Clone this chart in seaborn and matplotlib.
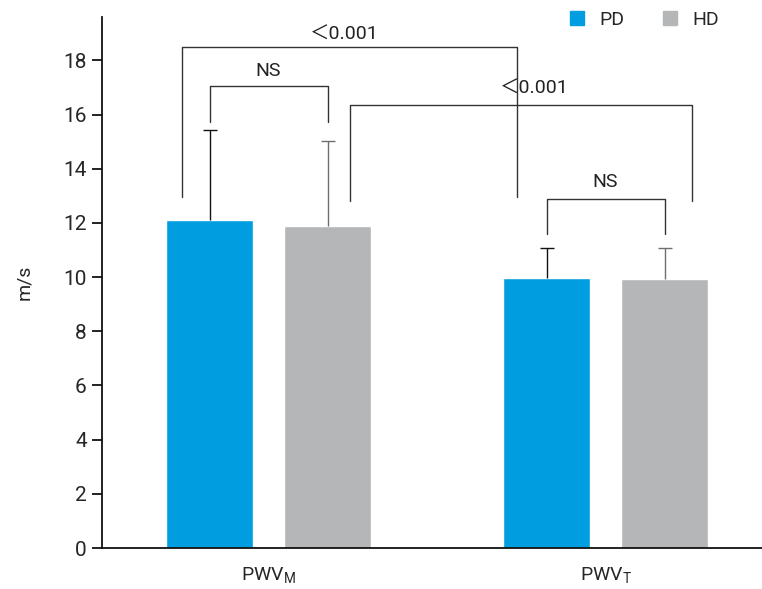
"""Pulse wave velocity, PD vs HD, grouped bars with significance brackets."""
import numpy as np
import pandas as pd
import matplotlib
matplotlib.use('Agg')
import matplotlib.pyplot as plt
import seaborn as sns
from matplotlib.patches import Patch

measures = ['PWV_M', 'PWV_T']
tick_labels = [r'$\mathregular{PWV_M}$', r'$\mathregular{PWV_T}$']
groups = ['PD', 'HD']
pd_mean = [12.12, 9.98]
hd_mean = [11.90, 9.94]
pd_sd = [3.30, 1.10]
hd_sd = [3.14, 1.14]

colors = {'PD': '#009ee0', 'HD': '#b5b6b8'}
err_colors = {'PD': '#111111', 'HD': '#6e6e6e'}

df = pd.DataFrame({
    'measure': measures * 2,
    'group': ['PD'] * 2 + ['HD'] * 2,
    'value': pd_mean + hd_mean,
    'sd': pd_sd + hd_sd,
})

sns.set_style('white')
plt.rcParams['font.family'] = ['Roboto', 'Noto Sans CJK SC', 'DejaVu Sans']

fig = plt.figure(figsize=(7.62, 5.89), dpi=100)
ax = fig.add_axes([0.1339, 0.0696, 0.8661, 0.9015])

sns.barplot(data=df, x='measure', y='value', hue='group', order=measures,
            hue_order=groups, palette=colors, width=0.7, gap=0.263,
            errorbar=None, saturation=1, legend=False, ax=ax)

# one-sided error bars, placed at the bar centres seaborn produced
centres = {}
for i, g in enumerate(groups):
    sub = df[df.group == g].set_index('measure').loc[measures]
    bars = ax.containers[i]
    xs = [b.get_x() + b.get_width() / 2 for b in bars]
    centres[g] = xs
    eb = ax.errorbar(xs, sub['value'], yerr=[np.zeros(len(xs)), sub['sd']],
                     fmt='none', ecolor=err_colors[g], elinewidth=1.0,
                     capsize=5, capthick=1.0, zorder=1)
    eb[1][0].set_visible(False)  # drop the cap at the bar top

line_kw = dict(color='#333333', lw=1.0, zorder=3)


def bracket(x1, x2, y_top, y1, y2, label, tx, ty):
    ax.plot([x1, x1, x2, x2], [y1, y_top, y_top, y2], **line_kw)
    ax.text(tx, ty, label, ha='center', va='center', fontsize=14,
            color='#222222')


pm, pt = centres['PD']
hm, ht = centres['HD']
bracket(pm, hm, 17.07, 15.74, 15.74, 'NS', (pm + hm) / 2, 17.62)
bracket(pt, ht, 12.90, 11.60, 11.60, 'NS', (pt + ht) / 2, 13.50)
bracket(pm - 0.082, pt - 0.088, 18.51, 12.97, 12.97, '\uff1c0.001',
        (pm + pt) / 2 - 0.10, 18.95)
bracket(hm + 0.067, ht + 0.082, 16.37, 12.82, 12.82, '\uff1c0.001',
        (hm + ht) / 2 + 0.115, 16.97)

ax.set_xlim(-0.494, 1.464)
ax.set_ylim(0, 19.6)
ax.set_yticks(range(0, 19, 2))
ax.set_xticks([0, 1])
ax.set_xticklabels(tick_labels)
ax.set_xlabel('')
ax.set_ylabel('m/s', fontsize=14)
ax.yaxis.set_label_coords(-0.105, 0.5)

sns.despine(ax=ax)
for s in ['left', 'bottom']:
    ax.spines[s].set_linewidth(1.3)
    ax.spines[s].set_color('#111111')
ax.tick_params(axis='y', length=7, width=1.3, labelsize=15, pad=4,
               color='#111111', left=True)
ax.tick_params(axis='x', length=0, labelsize=14, pad=12)

handles = [Patch(color=colors[g], label=g) for g in groups]
fig.legend(handles=handles, loc='center', bbox_to_anchor=(0.846, 0.966),
           ncol=2, frameon=False, fontsize=14, handlelength=0.7,
           handleheight=0.7, handletextpad=0.8, columnspacing=2.0)

fig.savefig('out.png', dpi=100)
